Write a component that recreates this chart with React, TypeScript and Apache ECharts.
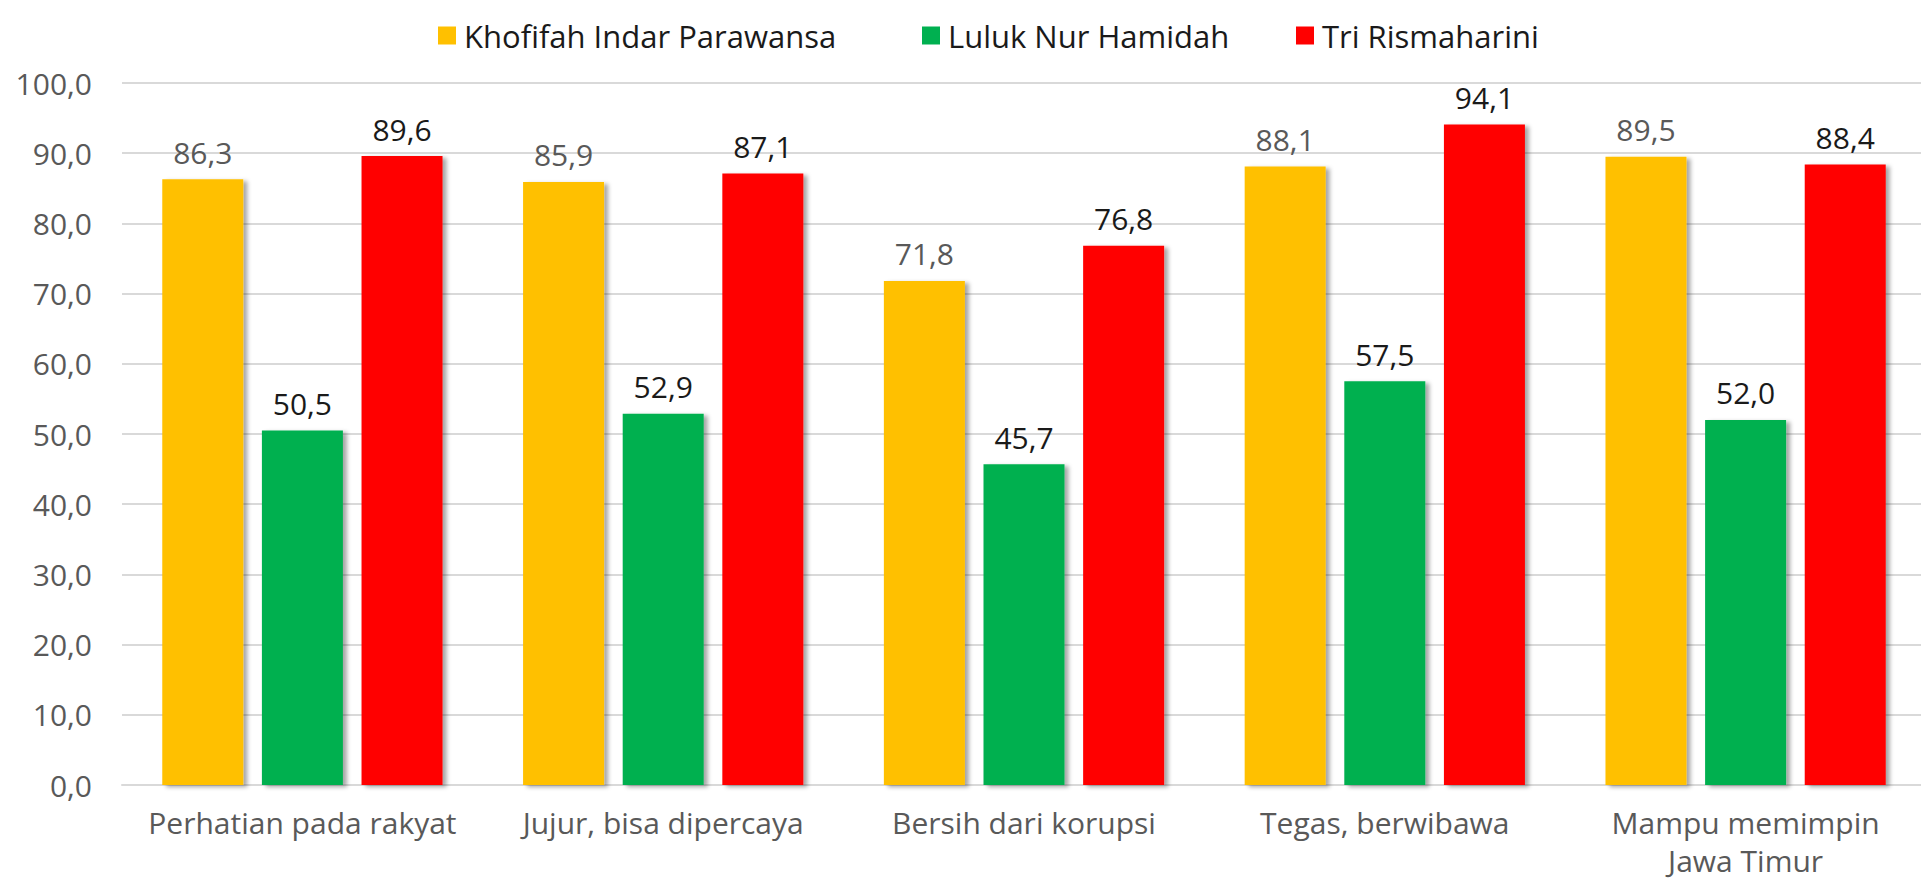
import React, { useEffect, useRef } from "react";
import * as echarts from "echarts";

const categories = [
  "Perhatian pada rakyat",
  "Jujur, bisa dipercaya",
  "Bersih dari korupsi",
  "Tegas, berwibawa",
  "Mampu memimpin\nJawa Timur",
];
const seriesNames = ["Khofifah Indar Parawansa", "Luluk Nur Hamidah", "Tri Rismaharini"];
const khofifah = [86.3, 85.9, 71.8, 88.1, 89.5];
const luluk = [50.5, 52.9, 45.7, 57.5, 52.0];
const tri = [89.6, 87.1, 76.8, 94.1, 88.4];
const yTicks = { min: 0, max: 100, interval: 10 };

const colors = ["#FFC000", "#00B050", "#FF0000"];
const labelColors = ["#595959", "#1a1a1a", "#1a1a1a"];
const FONT = "'Open Sans', sans-serif";
const fmt = (v: number) => v.toFixed(1).replace(".", ",");

export default function App() {
  const ref = useRef<HTMLDivElement>(null);
  useEffect(() => {
    if (!ref.current) return;
    const chart = echarts.init(ref.current, undefined, { renderer: "svg" });
    const data = [khofifah, luluk, tri];
    const legendLefts = [433, 917, 1291];
    chart.setOption({
      animation: false,
      backgroundColor: "#ffffff",
      textStyle: { fontFamily: FONT },
      legend: seriesNames.map((n, i) => ({
        data: [n],
        left: legendLefts[i],
        top: 15,
        itemWidth: 18,
        itemHeight: 18,
        icon: "rect",
        textStyle: { fontSize: 31, color: "#1a1a1a", fontFamily: FONT, padding: [0, 0, 0, 3] },
      })),
      grid: { left: 122, top: 83, width: 1804, height: 702, outerBoundsMode: "none", containLabel: false },
      xAxis: {
        type: "category",
        data: categories,
        axisLine: { lineStyle: { color: "#d9d9d9", width: 2 } },
        axisTick: { show: false },
        axisLabel: {
          color: "#595959",
          fontSize: 30,
          fontFamily: FONT,
          margin: 18,
          lineHeight: 38,
          interval: 0,
        },
      },
      yAxis: {
        type: "value",
        min: yTicks.min,
        max: yTicks.max,
        interval: yTicks.interval,
        axisLine: { show: false },
        axisTick: { show: false },
        splitLine: { lineStyle: { color: "#d9d9d9", width: 2 } },
        axisLabel: {
          color: "#595959",
          fontSize: 30,
          fontFamily: FONT,
          margin: 30,
          formatter: (v: number) => fmt(v),
        },
      },
      series: seriesNames.map((n, i) => ({
        name: n,
        type: "bar",
        data: data[i],
        barWidth: 81,
        barGap: "23%",
        itemStyle: {
          color: colors[i],
          shadowColor: "rgba(0,0,0,0.35)",
          shadowBlur: 4,
          shadowOffsetX: 4,
          shadowOffsetY: 2,
        },
        label: {
          show: true,
          position: "top",
          distance: 12,
          fontSize: 30,
          fontFamily: FONT,
          color: labelColors[i],
          formatter: (p: any) => fmt(p.value),
        },
      })),
    });
    return () => chart.dispose();
  }, []);
  return (
    <div
      ref={ref}
      style={{ position: "absolute", left: 0, top: 0, width: 1921, height: 880 }}
    />
  );
}
